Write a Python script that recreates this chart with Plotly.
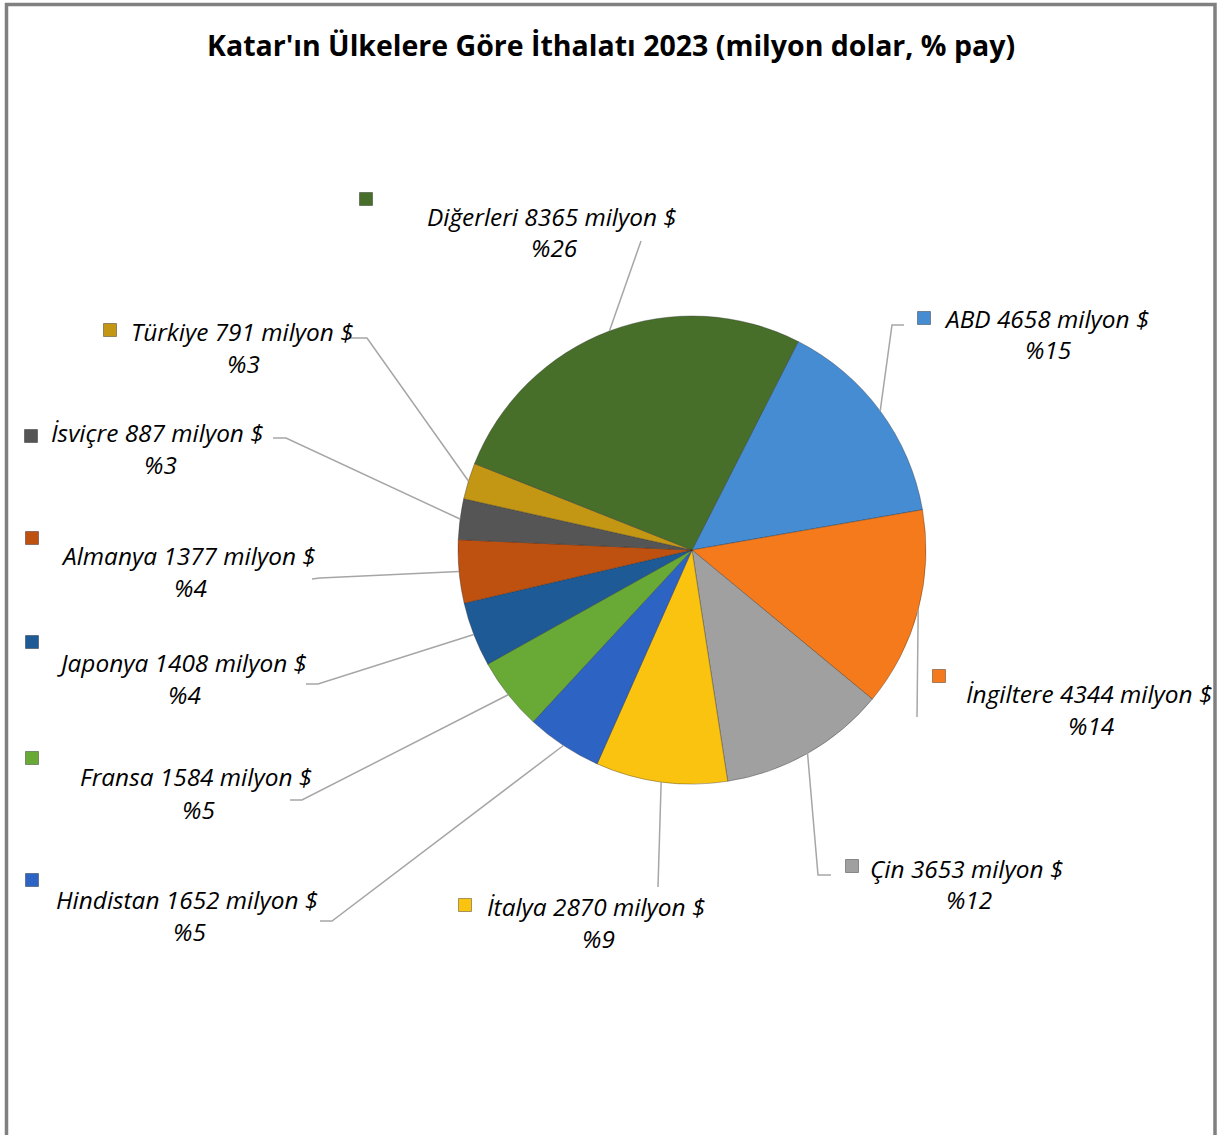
import math
import plotly.graph_objects as go

# ---------------- data ----------------
countries = ["ABD", "İngiltere", "Çin", "İtalya", "Hindistan", "Fransa",
             "Japonya", "Almanya", "İsviçre", "Türkiye", "Diğerleri"]
values = [4658, 4344, 3653, 2870, 1652, 1584, 1408, 1377, 887, 791, 8365]
shares = [15, 14, 12, 9, 5, 5, 4, 4, 3, 3, 26]
title_text = "Katar'ın Ülkelere Göre İthalatı 2023 (milyon dolar, % pay)"

# ---------------- style / layout ----------------
colors = ["#468cd2", "#f57a1c", "#a0a0a0", "#fac30f", "#2d64c3", "#69aa37",
          "#1e5a96", "#be5010", "#555555", "#c39614", "#476f2a"]
W, H = 1221, 1135
CX, CY, R = 692, 550, 234          # pie centre / radius in pixels
ROTATION = 27

# label positions (pixels): text centre x, first line y
label_xy = [(1046, 318), (1089, 693), (967, 868), (596, 906), (187, 899),
            (196, 777), (182, 662), (188, 555), (158, 432), (242, 331), (552, 216)]
marker_xy = [(924, 318), (939, 676), (852, 866), (465, 905), (32, 880),
             (32, 758), (32, 642), (32, 538), (31, 436), (110, 330), (366, 199)]
# leader line elbow and end points (pixels)
leader_elbow = [(892, 325), (917, 717), (818, 875), (658, 887), (332, 921),
                (302, 800), (318, 684), (320, 578), (286, 438), (367, 338), (641, 241)]
leader_end = [(904, 325), (917, 717), (831, 875), (658, 887), (320, 921),
              (290, 800), (306, 684), (312, 579), (273, 438), (348, 338), (641, 241)]
LINE_GAP = 32
FONT = "Open Sans"
LABEL_SIZE = 24.4
TITLE_SIZE = 28.5


def px(x):
    return x / W


def py(y):
    return 1 - y / H


fig = go.Figure()
fig.add_trace(go.Pie(
    labels=countries,
    values=values,
    sort=False,
    direction="clockwise",
    rotation=ROTATION,
    textinfo="none",
    hoverinfo="label+value+percent",
    marker=dict(colors=colors, line=dict(color="rgba(40,40,40,0.35)", width=1)),
    domain=dict(x=[px(CX - R), px(CX + R)], y=[py(CY + R), py(CY - R)]),
    showlegend=False,
))

shapes = []
annotations = []

# frame
shapes.append(dict(type="rect", xref="paper", yref="paper",
                   x0=px(6.5), x1=px(1215), y0=py(1160), y1=py(4.5),
                   line=dict(color="#808080", width=3.5), fillcolor="rgba(0,0,0,0)"))

total = sum(values)
cum = 0
for i, (c, v, s) in enumerate(zip(countries, values, shares)):
    mid = math.radians(ROTATION + (cum + v / 2) / total * 360)
    cum += v
    sx = CX + R * math.sin(mid)
    sy = CY - R * math.cos(mid)
    ex, ey = leader_elbow[i]
    tx, ty = leader_end[i]
    shapes.append(dict(type="path", xref="paper", yref="paper",
                       path=f"M {px(sx)} {py(sy)} L {px(ex)} {py(ey)} L {px(tx)} {py(ty)}",
                       line=dict(color="#a6a6a6", width=1.5)))
    mx, my = marker_xy[i]
    shapes.append(dict(type="rect", xref="paper", yref="paper",
                       x0=px(mx - 6.5), x1=px(mx + 6.5), y0=py(my + 6.5), y1=py(my - 6.5),
                       fillcolor=colors[i], line=dict(color="rgba(0,0,0,0.35)", width=1)))
    lx, ly = label_xy[i]
    annotations.append(dict(x=px(lx), y=py(ly), xref="paper", yref="paper",
                            text=f"<i>{c} {v} milyon $</i>", showarrow=False,
                            xanchor="center", yanchor="middle",
                            font=dict(family=FONT, size=LABEL_SIZE, color="#000000")))
    annotations.append(dict(x=px(lx + 2), y=py(ly + LINE_GAP), xref="paper", yref="paper",
                            text=f"<i>%{s}</i>", showarrow=False,
                            xanchor="center", yanchor="middle",
                            font=dict(family=FONT, size=LABEL_SIZE, color="#000000")))

annotations.append(dict(x=px(611), y=py(45), xref="paper", yref="paper",
                        text=f"<b>{title_text}</b>", showarrow=False,
                        xanchor="center", yanchor="middle",
                        font=dict(family=FONT, size=TITLE_SIZE, color="#000000")))

fig.update_layout(
    width=W, height=H,
    margin=dict(l=0, r=0, t=0, b=0),
    paper_bgcolor="white",
    plot_bgcolor="white",
    shapes=shapes,
    annotations=annotations,
)

fig.write_html("out.html", config={"displayModeBar": False},
               post_script="document.body.style.margin='0';")
